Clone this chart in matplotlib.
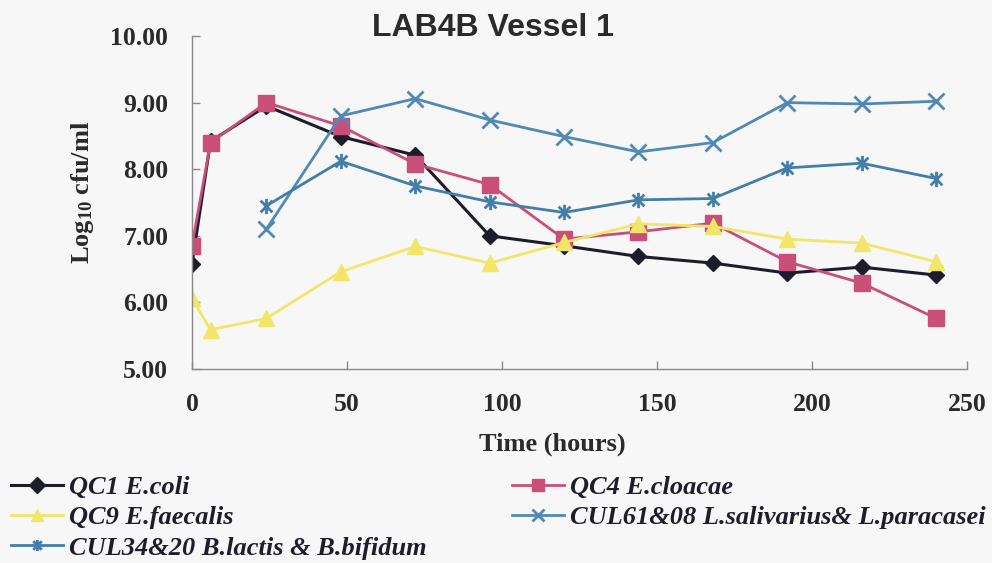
import matplotlib
matplotlib.use("Agg")
import matplotlib.pyplot as plt
from matplotlib.path import Path

plt.rcParams["mathtext.fontset"] = "custom"
plt.rcParams["mathtext.rm"] = "Liberation Serif:bold"
plt.rcParams["mathtext.bf"] = "Liberation Serif:bold"
plt.rcParams["mathtext.it"] = "Liberation Serif:bold"

time_h = [0, 6, 24, 48, 72, 96, 120, 144, 168, 192, 216, 240]
ecoli = [6.58, 8.42, 8.95, 8.49, 8.21, 7.00, 6.85, 6.69, 6.59, 6.44, 6.53, 6.41]
ecloacae = [6.85, 8.40, 9.00, 8.65, 8.08, 7.77, 6.95, 7.06, 7.19, 6.61, 6.29, 5.76]
efaecalis = [6.06, 5.59, 5.76, 6.46, 6.84, 6.59, 6.90, 7.18, 7.14, 6.95, 6.89, 6.61]
time_cul = [24, 48, 72, 96, 120, 144, 168, 192, 216, 240]
cul61 = [7.10, 8.80, 9.06, 8.74, 8.49, 8.26, 8.40, 9.00, 8.98, 9.02]
cul34 = [7.45, 8.12, 7.75, 7.51, 7.35, 7.54, 7.56, 8.02, 8.09, 7.86]

labels = ["QC1 E.coli", "QC4 E.cloacae", "QC9 E.faecalis",
          "CUL61&08 L.salivarius& L.paracasei", "CUL34&20 B.lactis & B.bifidum"]
y_ticks = [5, 6, 7, 8, 9, 10]
x_ticks = [0, 50, 100, 150, 200, 250]

# asterisk marker: x plus vertical bar
ast = Path([(-1, -1), (1, 1), (-1, 1), (1, -1), (0, -1.3), (0, 1.3)],
           [Path.MOVETO, Path.LINETO, Path.MOVETO, Path.LINETO, Path.MOVETO, Path.LINETO])

fig = plt.figure(figsize=(9.92, 5.63), dpi=100)
fig.patch.set_facecolor("#f7f7f7")
ax = fig.add_axes([0.1935, 0.3446, 0.7815, 0.5914])
ax.set_facecolor("#f7f7f7")

c_black = "#1c1c2a"
c_pink = "#c94f78"
c_yellow = "#f2e66a"
c_blue1 = "#5189b5"
c_blue2 = "#427ea8"

l1, = ax.plot(time_h, ecoli, color=c_black, lw=2.2, marker="D", ms=8, label=labels[0])
l2, = ax.plot(time_h, ecloacae, color=c_pink, lw=2.0, marker="s", ms=11, label=labels[1])
l3, = ax.plot(time_h, efaecalis, color=c_yellow, lw=2.0, marker="^", ms=12, label=labels[2])
l4, = ax.plot(time_cul, cul61, color=c_blue1, lw=2.0, marker="x", ms=11, mew=2, label=labels[3])
l5, = ax.plot(time_cul, cul34, color=c_blue2, lw=2.0, marker=ast, ms=11, mew=2, label=labels[4])

ax.set_xlim(0, 250)
ax.set_ylim(5, 10)
ax.set_xticks(x_ticks)
ax.set_yticks(y_ticks)
ax.set_yticklabels([f"{v:.2f}" for v in y_ticks])
for s in ["top", "right"]:
    ax.spines[s].set_visible(False)
for s in ["left", "bottom"]:
    ax.spines[s].set_color("#8a8a8a")
    ax.spines[s].set_linewidth(1.0)
ax.tick_params(direction="in", length=6, color="#8a8a8a", width=1.0, labelsize=18.5)
ax.tick_params(axis="y", pad=17)
ax.tick_params(axis="x", pad=17)
for t in ax.get_xticklabels() + ax.get_yticklabels():
    t.set_fontfamily("Liberation Serif")
    t.set_fontweight("bold")
    t.set_color("#2a2a2a")

ax.set_xlabel("Time (hours)", fontfamily="Liberation Serif", fontweight="bold",
              fontsize=19, color="#2a2a2a")
ax.xaxis.set_label_coords(0.4645, -0.19)
ax.set_ylabel(r"Log$_{10}$ cfu/ml", fontfamily="Liberation Serif", fontweight="bold",
              fontsize=19, color="#2a2a2a")
ax.yaxis.set_label_coords(-0.124, 0.53)

fig.text(0.497, 0.95, "LAB4B Vessel 1", ha="center", va="center",
         fontfamily="Liberation Sans", fontweight="bold", fontsize=23, color="#2a2a2a")

lp = dict(family="Liberation Serif", weight="bold", style="italic", size=19)
common = dict(loc="upper left", frameon=False, prop=lp, handlelength=2.0,
              handletextpad=0.2, labelspacing=0.26, borderaxespad=0,
              labelcolor="#1e1e2a")
leg1 = fig.legend([l1, l3, l5], [labels[0], labels[2], labels[4]],
                  bbox_to_anchor=(0.0, 0.174), **common)
leg2 = fig.legend([l2, l4], [labels[1], labels[3]],
                  bbox_to_anchor=(0.505, 0.174), **common)
for leg in (leg1, leg2):
    for h in leg.legend_handles:
        h.set_markersize(8)

fig.savefig("out.png", dpi=100, facecolor=fig.get_facecolor())
